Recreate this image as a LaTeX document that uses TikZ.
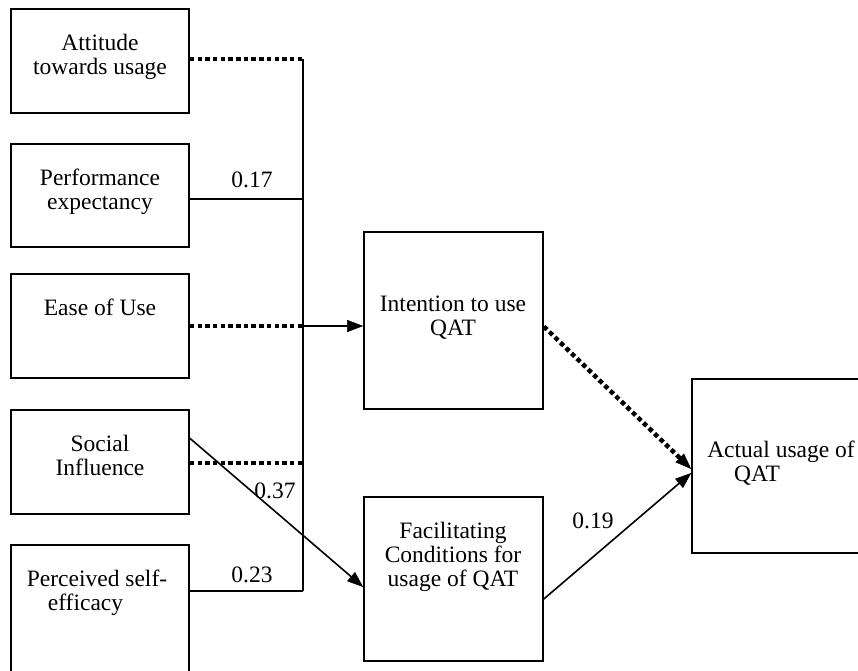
\documentclass[tikz,border=0pt]{standalone}
\usepackage{fontspec}
\setmainfont{Liberation Serif}
\usetikzlibrary{arrows.meta}
\begin{document}
\begin{tikzpicture}[x=1pt,y=-1pt,
  box/.style={draw, line width=1.6pt, inner sep=0pt, minimum width=178pt},
  txt/.style={anchor=north, inner sep=0pt, align=center, font=\fontsize{23.5}{24}\selectfont},
  lbl/.style={anchor=base, inner sep=0pt, font=\fontsize{23.5}{24}\selectfont},
  solidln/.style={line width=1.6pt},
  dotln/.style={line width=4.5pt, dash pattern=on 4.5pt off 3.2pt},
  tip/.style={-{Triangle[length=16pt,width=12pt,line width=0.5pt]}}
]
\clip (0,0) rectangle (858,670);
% boxes
\node[box, minimum height=104pt] (att) at (100,61) {};
\node[box, minimum height=103pt] (perf) at (100,195.5) {};
\node[box, minimum height=104pt] (ease) at (100,326) {};
\node[box, minimum height=104pt] (soc) at (100,462) {};
\node[box, minimum height=160pt] (pse) at (100,625) {};
\node[box, minimum width=179pt, minimum height=177pt] (int) at (453.5,320.5) {};
\node[box, minimum width=179pt, minimum height=164pt] (fac) at (453.5,579) {};
\node[box, minimum height=174pt] (act) at (781,466) {};
% texts
\node[txt] (tatt) at (100,33.2) {\strut Attitude\\towards usage};
\node[txt] (tperf) at (100,168.2) {\strut Performance\\expectancy};
\node[txt] (tease) at (100,298.2) {\strut Ease of Use};
\node[txt] (tsoc) at (100,434.2) {\strut Social\\Influence};
\node[txt] (tpse) at (97,569.2) {\strut Perceived self-\\efficacy\hspace*{23pt}};
\node[txt] (tint) at (453,294.2) {\strut Intention to use\\QAT};
\node[txt] (tfac) at (453,521.2) {\strut Facilitating\\Conditions for\\usage of QAT};
\node[txt] (tact) at (781,440.2) {\strut Actual usage of\\QAT\hspace*{48pt}};
% connectors
\coordinate (vt) at (303,59);
\coordinate (v2) at (303,199);
\coordinate (v3) at (303,326);
\coordinate (v4) at (303,463);
\coordinate (vb) at (303,591);
\draw[solidln] (vt) -- (vb);
\draw[dotln] (att.east |- vt) -- (vt);
\draw[solidln] (perf.east |- v2) -- (v2);
\draw[dotln] (ease.east) -- (v3);
\draw[solidln, tip] (v3) -- (v3 -| int.west);
\draw[dotln] (soc.east |- v4) -- (v4);
\draw[solidln] (pse.east |- vb) -- (vb);
\draw[solidln, tip] ([yshift=-29pt]soc.north east) -- ([yshift=-8pt]fac.west);
\draw[dotln, tip] ([yshift=-6pt]int.east) -- ([yshift=-3pt]act.west);
\draw[solidln, tip] ([yshift=-20pt]fac.east) -- ([yshift=-7pt]act.west);
% labels
\node[lbl] (l17) at (252,187) {0.17};
\node[lbl] (l23) at (252,582) {0.23};
\node[lbl] (l37) at (275,498) {0.37};
\node[lbl] (l19) at (593,528) {0.19};
\end{tikzpicture}
\end{document}
